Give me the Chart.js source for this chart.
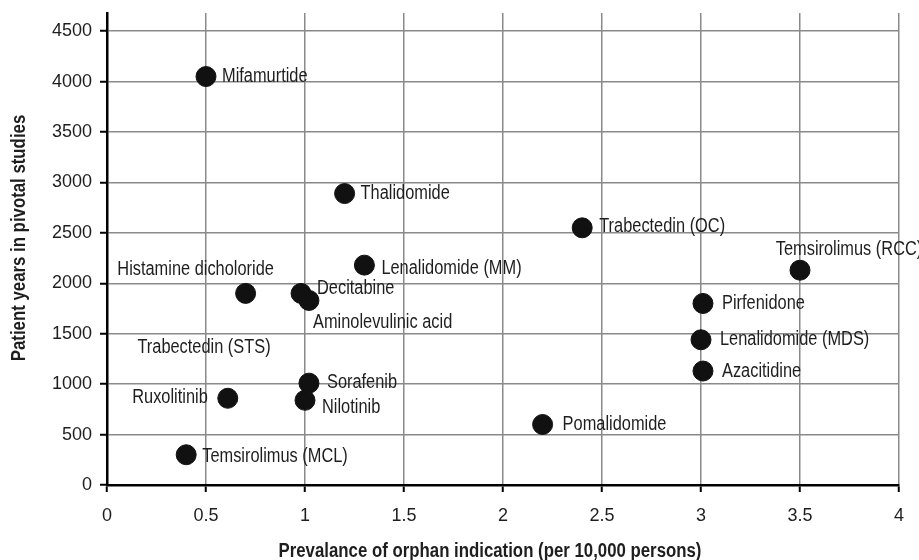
<!DOCTYPE html>
<html>
<head>
<meta charset="utf-8">
<script src="https://cdn.jsdelivr.net/npm/chart.js@4/dist/chart.umd.min.js"></script>
<style>
  html, body { margin: 0; padding: 0; background: #fff; }
  #wrap { width: 919px; height: 560px; }
</style>
</head>
<body>
<div id="wrap"><canvas id="chart" width="919" height="560"></canvas></div>
<script>
// Datos
const drugNames = [
  "Mifamurtide", "Thalidomide", "Trabectedin (OC)", "Temsirolimus (RCC)",
  "Lenalidomide (MM)", "Histamine dicholoride", "Decitabine", "Aminolevulinic acid",
  "Sorafenib", "Nilotinib", "Ruxolitinib", "Temsirolimus (MCL)",
  "Pomalidomide", "Pirfenidone", "Lenalidomide (MDS)", "Azacitidine"
];
const prevalence = [0.5, 1.2, 2.4, 3.5, 1.3, 0.7, 0.98, 1.02, 1.02, 1.0, 0.61, 0.4, 2.2, 3.01, 3.0, 3.01];
const patientYears = [4050, 2890, 2550, 2130, 2180, 1900, 1900, 1830, 1010, 840, 860, 300, 600, 1800, 1440, 1130];

// Etiqueta sin punto en el original
const unmarkedNames = ["Trabectedin (STS)"];
const unmarkedPrevalence = [0.49];
const unmarkedYears = [1360];

const xTicks = [0, 0.5, 1, 1.5, 2, 2.5, 3, 3.5, 4];
const yTicks = [0, 500, 1000, 1500, 2000, 2500, 3000, 3500, 4000, 4500];

const xTitle = 'Prevalance of orphan indication (per 10,000 persons)';
const yTitle = 'Patient years in pivotal studies';

// Posición de cada etiqueta respecto al punto: [align, dx, dy]
const labelPlacement = [
  ["left", 16, 0], ["left", 16, 0], ["left", 17, -1], ["center", 49, -21],
  ["left", 17, 3], ["center", -50, -24], ["left", 16, -5], ["left", 4, 22],
  ["left", 18, -1], ["left", 17, 7], ["right", -20, -1], ["left", 16, 2],
  ["left", 20, 0], ["left", 19, 0], ["left", 19, 0], ["left", 19, 1]
];

const FONT = "'Liberation Sans', Arial, sans-serif";
const NARROW = 0.84; // compresión horizontal para imitar una fuente condensada

// Texto condensado: se escala el contexto en horizontal
function narrowText(ctx, text, x, y, align) {
  ctx.save();
  ctx.translate(x, y);
  ctx.scale(NARROW, 1);
  ctx.textAlign = align;
  ctx.fillText(text, 0, 0);
  ctx.restore();
}

const pointLabels = {
  id: 'pointLabels',
  afterDatasetsDraw(chart) {
    const ctx = chart.ctx;
    ctx.save();
    ctx.font = "19.5px " + FONT;
    ctx.fillStyle = '#1e1e1e';
    ctx.textBaseline = 'middle';
    chart.getDatasetMeta(0).data.forEach((pt, i) => {
      const [align, dx, dy] = labelPlacement[i];
      narrowText(ctx, drugNames[i], pt.x + dx, pt.y + dy, align);
    });
    chart.getDatasetMeta(1).data.forEach((pt, i) => {
      narrowText(ctx, unmarkedNames[i], pt.x, pt.y, 'center');
    });
    ctx.restore();
  }
};

const axisTitles = {
  id: 'axisTitles',
  afterDraw(chart) {
    const ctx = chart.ctx;
    ctx.save();
    ctx.font = "bold 20px " + FONT;
    ctx.fillStyle = '#1e1e1e';
    ctx.textBaseline = 'middle';
    narrowText(ctx, xTitle, 490, 551, 'center');
    ctx.translate(19, 238);
    ctx.rotate(-Math.PI / 2);
    narrowText(ctx, yTitle, 0, 0, 'center');
    ctx.restore();
  }
};

const ctx = document.getElementById('chart').getContext('2d');
new Chart(ctx, {
  type: 'scatter',
  data: {
    datasets: [{
      data: prevalence.map((x, i) => ({ x: x, y: patientYears[i] })),
      backgroundColor: '#111',
      borderColor: '#111',
      pointRadius: 10,
      pointHoverRadius: 10
    }, {
      data: unmarkedPrevalence.map((x, i) => ({ x: x, y: unmarkedYears[i] })),
      pointRadius: 0
    }]
  },
  options: {
    responsive: false,
    animation: false,
    events: [],
    layout: { padding: { top: 13, right: 20, left: 0, bottom: 0 } },
    plugins: { legend: { display: false }, tooltip: { enabled: false } },
    scales: {
      x: {
        type: 'linear',
        min: 0, max: 4,
        afterFit: s => { s.height = 75; s.paddingLeft = 0; s.paddingRight = 0; },
        afterBuildTicks: s => { s.ticks = xTicks.map(v => ({ value: v })); },
        grid: { color: '#8a8a8a', lineWidth: 1.5, tickColor: '#000', tickLength: 7, tickWidth: 2 },
        border: { color: '#000', width: 2.5 },
        ticks: { color: '#1e1e1e', font: { family: FONT, size: 18 }, padding: 13, maxRotation: 0,
                 callback: v => String(v) }
      },
      y: {
        type: 'linear',
        min: 0, max: 4680,
        afterFit: s => { s.width = 107; s.paddingTop = 0; s.paddingBottom = 0; },
        afterBuildTicks: s => { s.ticks = yTicks.map(v => ({ value: v })); },
        grid: { color: '#8a8a8a', lineWidth: 1.5, tickColor: '#000', tickLength: 7, tickWidth: 2 },
        border: { color: '#000', width: 2.5 },
        ticks: { color: '#1e1e1e', font: { family: FONT, size: 18 }, padding: 8,
                 callback: v => String(v) }
      }
    }
  },
  plugins: [pointLabels, axisTitles]
});
</script>
</body>
</html>
